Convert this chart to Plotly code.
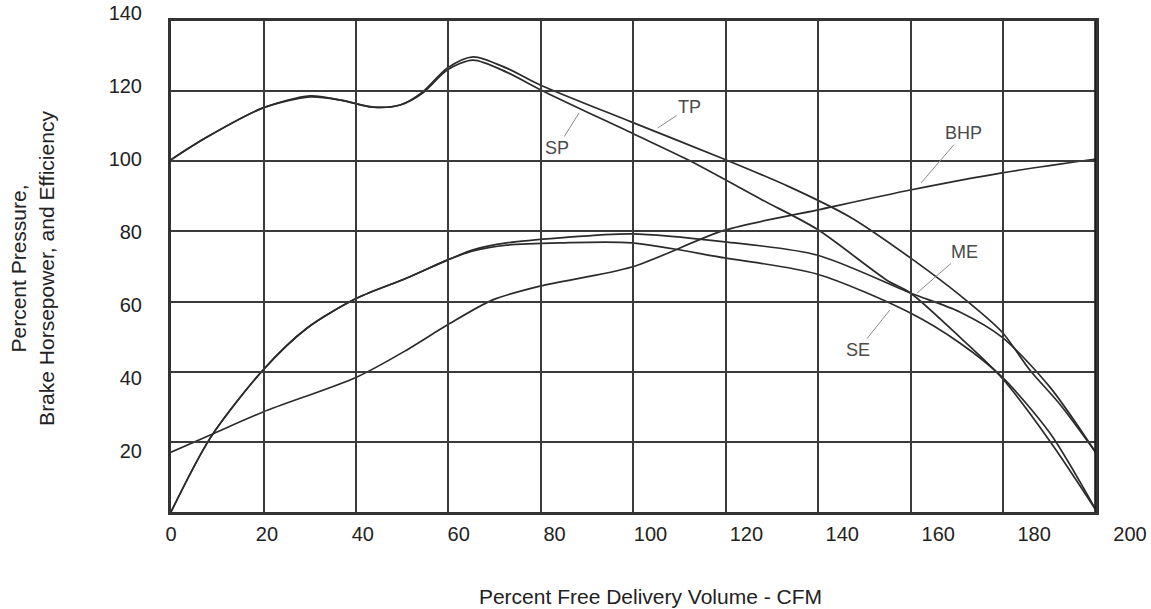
import plotly.graph_objects as go

# ---- data (x: percent free delivery volume, y: percent) ----
tp_x = [0, 7.5, 19.2, 29.0, 35.2, 42.2, 47.8, 52.5, 57.6, 63.0, 70.0, 77.0, 96.1, 115.3, 129.1, 141.6, 154.2, 164.5, 173.3, 179.1, 185.5, 192.9]
tp_y = [99.8, 106.0, 114.0, 117.3, 116.2, 114.2, 114.8, 118.4, 124.9, 128.0, 124.9, 120.3, 110.1, 100.0, 92.3, 84.1, 72.9, 62.7, 52.6, 42.2, 32.6, 19.5]

sp_x = [0, 7.5, 19.2, 29.0, 35.2, 42.2, 47.8, 52.5, 57.6, 63.0, 70.0, 77.0, 96.1, 107.9, 123.3, 134.7, 149.3, 154.2, 164.5, 173.3, 183.3, 192.9]
sp_y = [99.8, 106.0, 114.0, 117.0, 116.2, 114.2, 114.8, 118.1, 124.4, 127.1, 123.8, 119.0, 107.1, 99.7, 88.8, 80.8, 66.8, 63.3, 51.2, 40.0, 22.7, 3.8]

me_x = [0, 8.2, 19.2, 28.4, 38.8, 49.2, 57.6, 63.0, 70.0, 81.1, 96.1, 115.5, 134.7, 154.2, 164.5, 173.3, 183.3, 192.9]
me_y = [3.3, 23.6, 42.2, 53.7, 61.9, 67.4, 72.3, 75.1, 77.0, 78.4, 79.5, 77.3, 73.7, 63.3, 58.1, 51.2, 37.5, 19.5]

se_x = [0, 8.2, 19.2, 28.4, 38.8, 49.2, 57.6, 63.0, 70.0, 81.1, 96.1, 115.5, 134.7, 154.2, 164.5, 173.3, 183.3, 192.9]
se_y = [3.3, 23.6, 42.2, 53.7, 61.9, 67.4, 72.3, 74.8, 76.4, 77.0, 77.0, 72.9, 68.5, 57.8, 49.6, 40.3, 24.9, 3.8]

bhp_x = [0, 8.2, 19.2, 38.8, 49.2, 57.6, 67.1, 77.0, 96.1, 115.5, 134.7, 154.2, 173.3, 192.9]
bhp_y = [19.7, 24.4, 30.7, 40.3, 47.7, 54.5, 61.4, 65.2, 70.4, 80.5, 86.0, 91.5, 96.2, 100.0]

x_ticks = [0, 20, 40, 60, 80, 100, 120, 140, 160, 180, 200]
y_ticks = [20, 40, 60, 80, 100, 120, 140]

# curve labels: (text, arrow tip x, arrow tip y, text offset px)
labels = [
    ("TP", 101.5, 108.5, 32, -21),
    ("SP", 85.1, 112.6, -22, 35),
    ("BHP", 156.4, 93.4, 43, -50),
    ("ME", 155.6, 63.3, 47, -41),
    ("SE", 149.9, 58.6, -32, 40),
]

FONT = "Arial, Liberation Sans, sans-serif"
LINE = "#2b2b2b"
GRID = "#3a3a3a"

fig = go.Figure()
for xs, ys, nm in [(tp_x, tp_y, "TP"), (sp_x, sp_y, "SP"), (me_x, me_y, "ME"),
                   (se_x, se_y, "SE"), (bhp_x, bhp_y, "BHP")]:
    fig.add_trace(go.Scatter(x=xs, y=ys, mode="lines", name=nm,
                             line=dict(color=LINE, width=1.7, shape="spline", smoothing=0.8),
                             showlegend=False, hoverinfo="x+y+name"))

for txt, ax_, ay_, dx, dy in labels:
    fig.add_annotation(x=ax_, y=ay_, xref="x", yref="y", text=txt, showarrow=True,
                       arrowhead=0, arrowwidth=1, arrowcolor="#8a8a8a", ax=dx, ay=dy,
                       font=dict(family=FONT, size=18, color="#4a4a4a"), standoff=0)

fig.update_layout(
    width=1151, height=609,
    margin=dict(l=171, r=21, t=13, b=85, autoexpand=False),
    paper_bgcolor="white", plot_bgcolor="rgba(0,0,0,0)",
    font=dict(family=FONT, size=20, color="#222"),
    xaxis=dict(range=[0, 200], tickvals=x_ticks, showgrid=False, zeroline=False,
               showline=False, ticks="", automargin=False, ticklabeloverflow="allow",
               ticklabelstandoff=-4, tickfont=dict(size=20, color="#222"),
               title=dict(text="Percent Free Delivery Volume - CFM",
                          font=dict(size=21, color="#222"), standoff=45)),
    yaxis=dict(range=[0, 140], tickvals=y_ticks, showgrid=False, zeroline=False,
               showline=False, ticks="", ticklabelstandoff=28, automargin=False,
               ticklabeloverflow="allow", tickfont=dict(size=20, color="#222"),
               title=dict(text="Percent Pressure,<br>Brake Horsepower, and Efficiency",
                          font=dict(size=21, color="#222"), standoff=48)),
    # grid box (a separate, empty subplot placed over the chart frame)
    xaxis2=dict(domain=[0, 0.9645], anchor="y2", range=[0, 10], dtick=1, tick0=0,
                showgrid=True, gridcolor=GRID, gridwidth=1.6, zeroline=False,
                showticklabels=False, ticks="", showline=True, mirror=True,
                linecolor="#333", linewidth=2.6, automargin=False, fixedrange=True),
    yaxis2=dict(domain=[0.0235, 0.9843], anchor="x2", range=[0, 7], dtick=1, tick0=0,
                showgrid=True, gridcolor=GRID, gridwidth=1.6, zeroline=False,
                showticklabels=False, ticks="", showline=True, mirror=True,
                linecolor="#333", linewidth=2.6, automargin=False, fixedrange=True),
)

fig.add_shape(type="line", xref="x2", yref="y2", x0=10, x1=10, y0=0, y1=7,
              line=dict(color="#1e1e1e", width=3.5), layer="above")

fig.write_html("out.html", config={"displayModeBar": False},
               post_script="document.body.style.margin='0';")
